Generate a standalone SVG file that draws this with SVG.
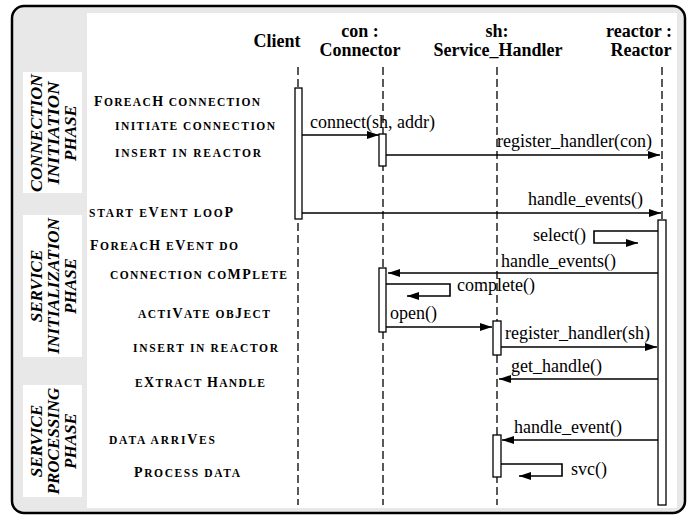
<svg xmlns="http://www.w3.org/2000/svg" width="694" height="518" viewBox="0 0 694 518">
  <defs>
    <marker id="head" viewBox="0 0 12 8" refX="12" refY="4" markerWidth="12" markerHeight="8" markerUnits="userSpaceOnUse" orient="auto">
      <path d="M0,0 L12,4 L0,8 Z" fill="#000"/>
    </marker>
    <style>
      .frame { fill: #e8e8e8; stroke: #000; stroke-width: 2.5; }
      .panel { fill: #fff; stroke: none; }
      text { font-family: 'Liberation Serif', 'DejaVu Serif', serif; fill: #000; }
      .phase { font-weight: bold; font-style: italic; font-size: 17px; text-anchor: middle; }
      .head { font-weight: bold; font-size: 18px; text-anchor: middle; }
      .step { font-weight: bold; font-size: 11.5px; }
      .big { font-size: 14px; }
      .msg { font-size: 18px; }
      .life { stroke: #000; stroke-width: 1.3; stroke-dasharray: 8 4; fill: none; }
      .act { fill: #fff; stroke: #000; stroke-width: 1.3; }
      .call { stroke: #000; stroke-width: 1.6; fill: none; marker-end: url(#head); }
    </style>
  </defs>

  <!-- outer frame and drawing panel -->
  <rect class="frame" x="12" y="6" width="673" height="507" rx="12"/>
  <rect class="panel" x="87" y="13" width="590" height="495"/>

  <!-- phase labels -->
  <g id="phase-connection">
    <rect class="panel" x="23" y="72" width="59" height="121"/>
    <g transform="translate(0,133) rotate(-90)">
      <text class="phase" x="0" y="42" textLength="118" lengthAdjust="spacingAndGlyphs">CONNECTION</text>
      <text class="phase" x="0" y="59" textLength="103" lengthAdjust="spacingAndGlyphs">INITIATION</text>
      <text class="phase" x="0" y="76">PHASE</text>
    </g>
  </g>
  <g id="phase-initialization">
    <rect class="panel" x="23" y="215" width="59" height="142"/>
    <g transform="translate(0,286) rotate(-90)">
      <text class="phase" x="0" y="42">SERVICE</text>
      <text class="phase" x="0" y="59" textLength="136" lengthAdjust="spacingAndGlyphs">INITIALIZATION</text>
      <text class="phase" x="0" y="76">PHASE</text>
    </g>
  </g>
  <g id="phase-processing">
    <rect class="panel" x="23" y="385" width="59" height="112"/>
    <g transform="translate(0,441) rotate(-90)">
      <text class="phase" x="0" y="42">SERVICE</text>
      <text class="phase" x="0" y="59">PROCESSING</text>
      <text class="phase" x="0" y="76">PHASE</text>
    </g>
  </g>

  <!-- step descriptions -->
  <g id="steps">
    <text class="step" x="94" y="106" textLength="166" lengthAdjust="spacing"><tspan class="big">F</tspan>OREAC<tspan class="big">H</tspan> CONNECTION</text>
    <text class="step" x="115" y="130" textLength="160" lengthAdjust="spacing">INITIATE CONNECTION</text>
    <text class="step" x="115" y="157" textLength="146" lengthAdjust="spacing">INSERT IN REACTOR</text>
    <text class="step" x="89" y="217" textLength="144" lengthAdjust="spacing">START E<tspan class="big">V</tspan>ENT LOO<tspan class="big">P</tspan></text>
    <text class="step" x="90" y="250" textLength="148" lengthAdjust="spacing"><tspan class="big">F</tspan>OREAC<tspan class="big">H</tspan> E<tspan class="big">V</tspan>ENT DO</text>
    <text class="step" x="110" y="279" textLength="177" lengthAdjust="spacing">CONNECTION CO<tspan class="big">MP</tspan>LETE</text>
    <text class="step" x="138" y="318" textLength="132" lengthAdjust="spacing">ACTI<tspan class="big">V</tspan>ATE OB<tspan class="big">J</tspan>ECT</text>
    <text class="step" x="133" y="352" textLength="145" lengthAdjust="spacing">INSERT IN REACTOR</text>
    <text class="step" x="135" y="387" textLength="130" lengthAdjust="spacing">E<tspan class="big">X</tspan>TRACT <tspan class="big">H</tspan>ANDLE</text>
    <text class="step" x="109" y="444" textLength="106" lengthAdjust="spacing">DATA ARRI<tspan class="big">V</tspan>ES</text>
    <text class="step" x="134" y="477" textLength="106" lengthAdjust="spacing"><tspan class="big">P</tspan>ROCESS DATA</text>
  </g>

  <!-- participants: header, lifeline, activations -->
  <g id="client">
    <text class="head" x="277" y="47">Client</text>
    <line class="life" x1="298" y1="67" x2="298" y2="505"/>
    <rect class="act" x="295" y="88" width="7" height="131"/>
  </g>
  <g id="connector">
    <text class="head" x="360" y="37">con :</text>
    <text class="head" x="360" y="56">Connector</text>
    <line class="life" x1="383" y1="67" x2="383" y2="505"/>
    <rect class="act" x="379" y="134" width="7" height="32"/>
    <rect class="act" x="379" y="268" width="7" height="64"/>
  </g>
  <g id="service-handler">
    <text class="head" x="497" y="37">sh:</text>
    <text class="head" x="498" y="56">Service_Handler</text>
    <line class="life" x1="497" y1="67" x2="497" y2="505"/>
    <rect class="act" x="493" y="321" width="8" height="34"/>
    <rect class="act" x="493" y="435" width="8" height="42"/>
  </g>
  <g id="reactor">
    <text class="head" x="639" y="37">reactor :</text>
    <text class="head" x="641" y="56">Reactor</text>
    <line class="life" x1="662" y1="67" x2="662" y2="220"/>
    <rect class="act" x="658" y="220" width="8" height="285"/>
  </g>

  <!-- messages -->
  <g id="connectors">
    <line class="call" x1="302" y1="135" x2="379" y2="135"/>
    <text class="msg" x="310" y="128">connect(sh, addr)</text>

    <line class="call" x1="386" y1="155" x2="660" y2="155"/>
    <text class="msg" x="497" y="147">register_handler(con)</text>

    <line class="call" x1="302" y1="213" x2="661" y2="213"/>
    <text class="msg" x="528" y="205">handle_events()</text>

    <polyline class="call" points="658,231 594,231 594,243 638,243"/>
    <text class="msg" x="533" y="241">select()</text>

    <line class="call" x1="658" y1="273" x2="388" y2="273"/>
    <text class="msg" x="501" y="267">handle_events()</text>

    <polyline class="call" points="386,284 450,284 450,296 407,296"/>
    <text class="msg" x="457" y="291">complete()</text>

    <line class="call" x1="386" y1="327" x2="492" y2="327"/>
    <text class="msg" x="390" y="319">open()</text>

    <line class="call" x1="501" y1="347" x2="657" y2="347"/>
    <text class="msg" x="505" y="339">register_handler(sh)</text>

    <line class="call" x1="658" y1="379" x2="499" y2="379"/>
    <text class="msg" x="511" y="372">get_handle()</text>

    <line class="call" x1="658" y1="440" x2="502" y2="440"/>
    <text class="msg" x="514" y="433">handle_event()</text>

    <polyline class="call" points="501,464 562,464 562,476 519,476"/>
    <text class="msg" x="571" y="475">svc()</text>
  </g>
</svg>
